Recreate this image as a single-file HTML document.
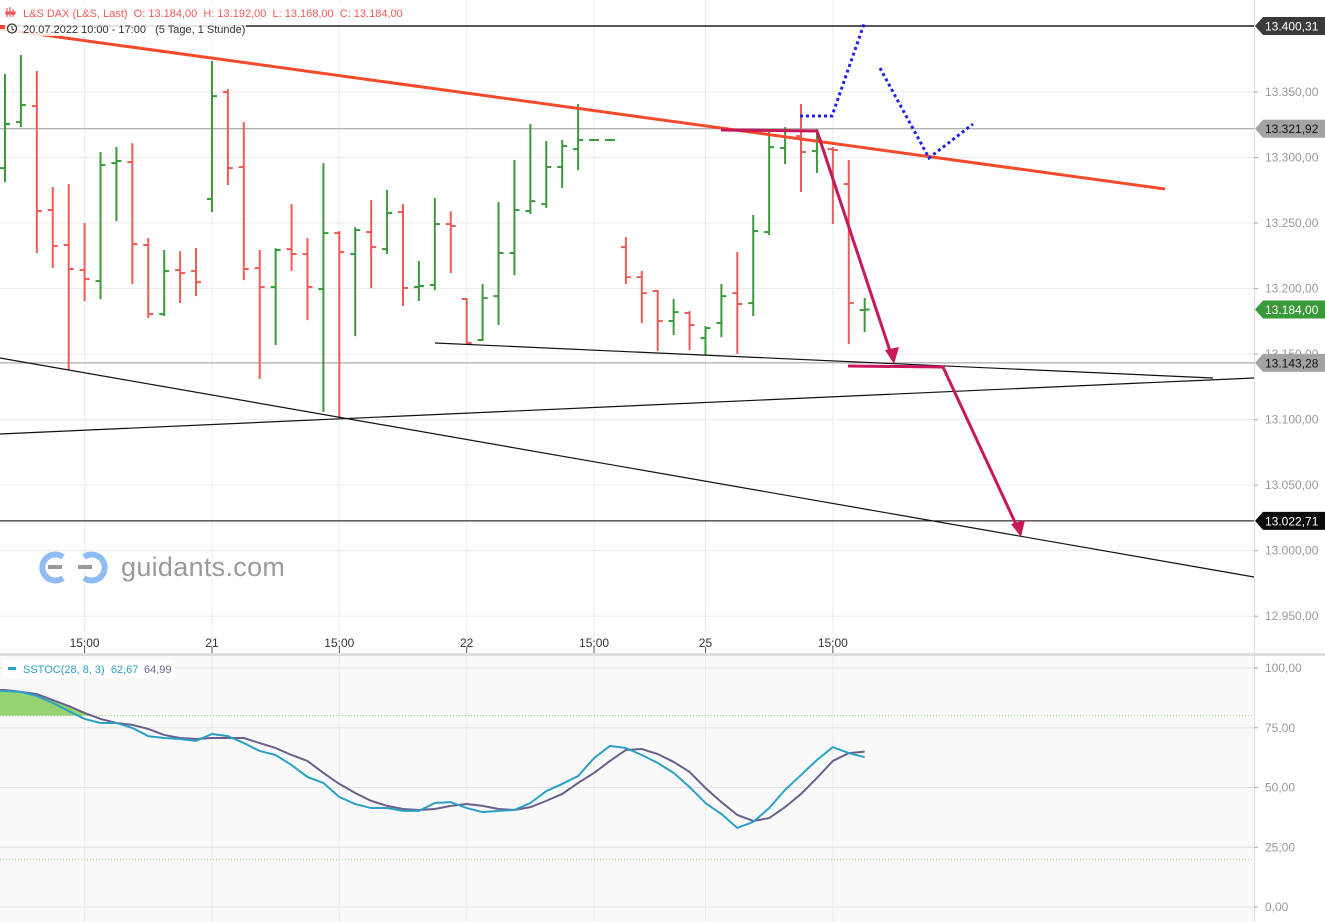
<!DOCTYPE html>
<html><head><meta charset="utf-8">
<style>
html,body{margin:0;padding:0;background:#fff;}
svg{display:block;font-family:"Liberation Sans",sans-serif;}
</style></head>
<body>
<svg id="chart" width="1325" height="922" viewBox="0 0 1325 922" xmlns="http://www.w3.org/2000/svg">
<rect x="0" y="0" width="1325" height="922" fill="#fff"/>
<rect x="0" y="656" width="1254" height="266" fill="#f9f9f9"/>
<g id="grid"></g>
<g id="drawings-under"></g>
<g id="bars"></g>
<g id="stoch"></g>
<g id="drawings"></g>
<g id="axes"></g>
</svg>
<script>
const NS="http://www.w3.org/2000/svg";
// ---- data ----
const opens=[13291.9,13327.0,13339.2,13259.9,13233.2,13214.1,13205.7,13295.7,13296.5,13233.2,13180.5,13214.1,13213.3,13268.3,13349.9,13292.7,13215.6,13201.1,13230.1,13226.3,13199.6,13242.3,13226.3,13243.1,13230.1,13258.3,13201.1,13202.7,13249.2,13192.0,13160.7,13194.2,13227.1,13259.1,13264.4,13292.7,13306.4,13313.3,13313.3,13231.6,13208.7,13198.1,13175.2,13181.3,13162.2,13173.7,13196.5,13188.9,13243.1,13307.2,13316.3,13304.9,13306.4,13279.7,13183.6];
const highs=[13362.9,13377.4,13365.2,13276.7,13279.0,13249.2,13303.4,13307.2,13310.2,13237.7,13228.6,13227.8,13230.1,13372.8,13351.4,13326.2,13228.6,13230.1,13263.7,13237.7,13294.9,13243.1,13246.1,13266.7,13274.4,13263.7,13220.2,13268.3,13258.3,13192.0,13202.7,13265.2,13297.3,13324.7,13311.8,13312.5,13340.0,13313.3,13313.3,13238.5,13212.6,13198.1,13191.2,13182.0,13170.6,13202.7,13227.1,13255.3,13319.4,13322.4,13340.0,13320.9,13307.2,13297.3,13192.0];
const lows=[13282.0,13324.0,13227.8,13216.4,13138.5,13191.2,13192.7,13252.2,13204.2,13178.2,13179.8,13189.7,13195.0,13259.1,13279.7,13207.2,13131.7,13157.6,13214.1,13176.7,13106.5,13101.9,13164.5,13201.1,13227.1,13187.4,13191.2,13199.6,13212.6,13158.4,13160.7,13172.9,13211.0,13257.6,13262.2,13277.4,13291.1,13313.3,13313.3,13204.2,13174.4,13153.0,13165.3,13153.8,13150.0,13163.7,13150.8,13179.8,13241.6,13295.7,13274.4,13288.9,13250.0,13158.4,13167.5];
const closes=[13325.5,13340.0,13259.1,13232.4,13214.9,13207.2,13294.2,13297.3,13233.9,13180.5,13213.3,13211.8,13204.9,13346.8,13291.9,13214.9,13201.1,13229.4,13226.3,13201.1,13242.3,13227.8,13244.6,13231.6,13257.6,13200.4,13201.9,13249.2,13247.7,13158.4,13192.7,13227.1,13259.9,13266.7,13292.7,13308.7,13313.3,13313.3,13313.3,13208.7,13196.5,13175.2,13182.0,13172.1,13169.8,13194.2,13188.2,13243.8,13307.9,13315.6,13304.1,13313.3,13305.7,13188.9,13184.0];
const stochK=[90.4,90.0,88.3,85.4,82.0,78.7,77.0,77.0,74.9,71.5,70.7,70.3,69.5,72.4,71.5,68.6,65.3,63.6,59.4,54.4,51.9,46.0,43.1,41.4,41.4,40.2,40.2,43.5,43.9,41.4,39.7,40.2,40.6,43.5,48.5,51.5,54.8,62.3,67.4,66.5,63.6,60.3,56.1,50.2,43.5,38.9,33.1,35.6,41.4,49.0,55.2,61.5,66.9,64.4,62.67];
const stochD=[90.8,90.0,89.1,86.6,84.1,81.2,78.7,77.0,76.2,74.5,72.0,70.7,70.3,70.7,70.7,70.7,68.6,66.5,63.6,61.1,56.1,51.5,47.7,44.4,42.3,41.0,40.6,41.0,42.3,43.1,42.3,41.0,40.6,41.8,44.4,47.3,51.9,56.1,61.1,65.7,66.1,64.0,60.7,56.5,49.8,43.9,38.5,36.0,37.2,41.8,47.3,54.0,61.1,64.4,64.99];
const priceTicks=[13350,13300,13250,13200,13150,13100,13050,13000,12950];
const stochTicks=[100,75,50,25,0];
const timeTickIdx=[5,13,21,29,37,44,52];
const timeTickLabels=["15:00","21","15:00","22","15:00","25","15:00"];
const levelValues=[13400.31,13321.92,13143.28,13022.71];
// ---- scales ----
const X=i=>5+i*15.92;
const Y=v=>26.4+(13400-v)*1.3107;
const SY=v=>907-v*2.39;
function mk(tag,attrs,parent){const e=document.createElementNS(NS,tag);for(const k in attrs)e.setAttribute(k,attrs[k]);parent.appendChild(e);return e;}
const grid=document.getElementById('grid'),bars=document.getElementById('bars'),st=document.getElementById('stoch');
priceTicks.forEach(v=>{const l=mk('line',{x1:0,x2:1254,y1:Y(v),y2:Y(v),stroke:'#ececec','stroke-width':1},grid);

});
timeTickIdx.forEach(i=>{const l=mk('line',{x1:X(i),x2:X(i),y1:0,y2:922,stroke:'#ececec','stroke-width':1},grid);

});
stochTicks.forEach(v=>{const l=mk('line',{x1:0,x2:1254,y1:SY(v),y2:SY(v),stroke:'#e2e2e2','stroke-width':1},grid);

});
[80,20].forEach(v=>{const l=mk('line',{x1:0,x2:1254,y1:SY(v),y2:SY(v),stroke:'#9bd07a','stroke-width':1,'stroke-dasharray':'1,2'},grid);

});
const lvlColors=['#555','#999','#999','#000'];
levelValues.forEach((v,k)=>{const l=mk('line',{x1:0,x2:1254,y1:Y(v),y2:Y(v),stroke:lvlColors[k],'stroke-width':k==0?2:1},grid);

});
opens.forEach((o,i)=>{const c=closes[i];const col=(c>o||(c==o&&i!=29))?'#3a9a3a':'#ee5a55';
const g=mk('g',{stroke:col,'stroke-width':2},bars);


const x=X(i);
mk('line',{x1:x,x2:x,y1:Y(highs[i])-1,y2:Y(lows[i])+1},g);
mk('line',{x1:x-5,x2:x,y1:Y(o),y2:Y(o)},g);
mk('line',{x1:x,x2:x+5,y1:Y(c),y2:Y(c)},g);});
const clip=mk('clipPath',{id:'ob'},st);mk('rect',{x:0,y:0,width:1254,height:SY(80)},clip);
let fp='M0,'+SY(80)+' L0,'+SY(stochD[0]);stochK.forEach((v,i)=>fp+=' L'+X(i)+','+SY(Math.max(v,stochD[i])));fp+=' L'+X(stochK.length-1)+','+SY(80)+'Z';
const fill=mk('path',{d:fp,fill:'#8fd06a','clip-path':'url(#ob)',opacity:0.95},st);


const lineD=arr=>'M0,'+SY(arr[0])+arr.map((v,i)=>' L'+X(i)+','+SY(v)).join('');
const dl=mk('path',{d:lineD(stochD),fill:'none',stroke:'#6a5f8a','stroke-width':2},st);


const kl=mk('path',{d:lineD(stochK),fill:'none',stroke:'#2aa0c8','stroke-width':2},st);


</script>
<script>
(function(){
const dr=document.getElementById('drawings');
dr.innerHTML=`
<line x1="0" y1="29" x2="1165" y2="189" stroke="#f5492b" stroke-width="3"/>
<line x1="0" y1="358" x2="1254" y2="577" stroke="#111" stroke-width="1.2"/>
<line x1="0" y1="434" x2="1254" y2="378" stroke="#111" stroke-width="1.2"/>
<line x1="435" y1="343" x2="1213" y2="378" stroke="#111" stroke-width="1.2"/>
<polyline points="721,130 817,131 893,360" fill="none" stroke="#c8185a" stroke-width="3"/>
<polygon points="885,350 899,347 894,364" fill="#c8185a"/>
<polyline points="848,366 943,367 1020,533" fill="none" stroke="#c8185a" stroke-width="3"/>
<polygon points="1011,524 1025,520 1021,537" fill="#c8185a"/>
<polyline points="800,116 832,116 864,24" fill="none" stroke="#2020ee" stroke-width="3" stroke-dasharray="3,3"/>
<polyline points="880,68 929,158 973,124" fill="none" stroke="#2020ee" stroke-width="3" stroke-dasharray="3,3"/>
`;
})();
</script>
<script>
(function(){
const ax=document.getElementById('axes');
const Y=v=>26.4+(13400-v)*1.3107, SY=v=>907-v*2.39, X=i=>5+i*15.92;
const priceTicks=[13350,13300,13250,13200,13150,13100,13050,13000,12950];
const stochTicks=[100,75,50,25,0];
const timeTickIdx=[5,13,21,29,37,44,52];
const timeTickLabels=["15:00","21","15:00","22","15:00","25","15:00"];
const fmt=v=>{const s=v.toFixed(2).split('.');return s[0].replace(/\B(?=(\d{3})+(?!\d))/g,'.')+','+s[1];};
let h='';
h+='<rect x="1254" y="0" width="71" height="922" fill="#fff"/>';
h+='<line x1="1254.5" y1="0" x2="1254.5" y2="922" stroke="#ddd"/>';
h+='<rect x="0" y="653" width="1325" height="3" fill="#ddd"/>';
priceTicks.forEach(v=>{h+=`<line x1="1254" x2="1258" y1="${Y(v)}" y2="${Y(v)}" stroke="#aaa"/><text x="1265" y="${Y(v)+4}" font-size="12" fill="#999">${fmt(v)}</text>`;});
stochTicks.forEach(v=>{h+=`<line x1="1254" x2="1258" y1="${SY(v)}" y2="${SY(v)}" stroke="#aaa"/><text x="1265" y="${SY(v)+4}" font-size="12" fill="#999">${fmt(v)}</text>`;});
timeTickIdx.forEach((i,k)=>{h+=`<line x1="${X(i)}" x2="${X(i)}" y1="647" y2="653" stroke="#555"/><text x="${X(i)}" y="647" font-size="12" fill="#333" text-anchor="middle">${timeTickLabels[k]}</text>`;});
const badges=[[13400.31,'#3a3a3a','#fff'],[13321.92,'#a3a3a3','#111'],[13184.00,'#3a9a3a','#fff'],[13143.28,'#a3a3a3','#111'],[13022.71,'#0a0a0a','#fff']];
badges.forEach(b=>{const y=Y(b[0]);h+=`<g><path d="M1255,${y} L1263,${y-9} L1325,${y-9} L1325,${y+9} L1263,${y+9} Z" fill="${b[1]}"/><text x="1265" y="${y+4.5}" font-size="12" fill="${b[2]}">${fmt(b[0])}</text></g>`;});
h+=`<g><rect x="0" y="3" width="405" height="16" fill="#fff" opacity="0.85"/>
<g stroke="#ee5a55" stroke-width="1.2"><line x1="7" y1="8" x2="7" y2="17"/><line x1="10" y1="7" x2="10" y2="17"/><line x1="13" y1="9" x2="13" y2="17"/><rect x="6" y="12" width="9" height="2" fill="#ee5a55"/></g>
<text x="23" y="17" font-size="11" fill="#ee5a55">L&amp;S DAX (L&amp;S, Last)&#160;&#160;O: 13.184,00&#160;&#160;H: 13.192,00&#160;&#160;L: 13.168,00&#160;&#160;C: 13.184,00</text></g>`;
h+=`<g><rect x="0" y="21" width="246" height="15" fill="#fff" opacity="0.85"/><rect x="0" y="25" width="5" height="4" fill="#f5492b"/>
<circle cx="12" cy="28.5" r="4.5" fill="none" stroke="#333" stroke-width="1.2"/><path d="M12,26 L12,29 L14,30" stroke="#333" fill="none" stroke-width="1"/>
<text x="23" y="33" font-size="11" fill="#333">20.07.2022 10:00 - 17:00&#160;&#160;&#160;(5 Tage, 1 Stunde)</text></g>`;
h+=`<g><rect x="3" y="660" width="172" height="18" fill="#fff"/><rect x="8" y="667" width="8" height="3" fill="#2aa0c8"/>
<text x="23" y="673" font-size="11" fill="#2aa0c8">SSTOC(28, 8, 3)&#160;&#160;62,67</text><text x="144" y="673" font-size="11" fill="#6a5f8a">64,99</text></g>`;
h+=`<g><g fill="none" stroke="#8fbcf5" stroke-width="6"><path d="M63,557 A13,13 0 1 0 63,578"/><path d="M78,578 A13,13 0 1 0 78,557" transform="translate(6,0)"/></g>
<rect x="48" y="565" width="14" height="4" fill="#999"/><rect x="78" y="565" width="14" height="4" fill="#999"/>
<text x="121" y="576" font-size="27" letter-spacing="0.3" fill="#9a9a9a">guidants.com</text></g>`;
ax.innerHTML=h;
})();
</script>
</body></html>
